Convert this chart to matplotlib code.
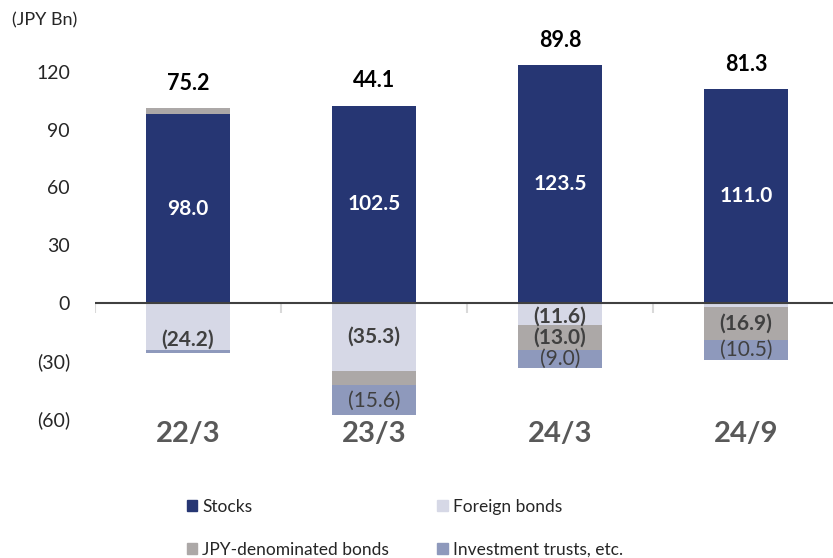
import matplotlib
matplotlib.use("Agg")
import matplotlib.pyplot as plt
from matplotlib.patches import Patch

plt.rcParams['font.family'] = ['Lato', 'DejaVu Sans']

# data (JPY Bn)
periods = ["22/3", "23/3", "24/3", "24/9"]
stocks = [98.0, 102.5, 123.5, 111.0]
foreign_bonds = [-24.2, -35.3, -11.6, -2.3]
jpy_bonds = [3.1, -7.5, -13.0, -16.9]
inv_trusts = [-1.7, -15.6, -9.0, -10.5]
totals = [75.2, 44.1, 89.8, 81.3]

series = [
    ("Stocks", stocks, "#263673"),
    ("Foreign bonds", foreign_bonds, "#d6d8e6"),
    ("JPY-denominated bonds", jpy_bonds, "#aca8a7"),
    ("Investment trusts, etc.", inv_trusts, "#8e99bc"),
]

fig = plt.figure(figsize=(8.33, 5.58), dpi=100)
ax = fig.add_axes([0.114, 0.25, 0.886, 0.69])

x = list(range(len(periods)))
w = 0.45
pos_bottom = [0.0] * len(x)
neg_bottom = [0.0] * len(x)

for name, vals, col in series:
    bottoms = []
    for i, v in enumerate(vals):
        if v >= 0:
            bottoms.append(pos_bottom[i])
            pos_bottom[i] += v
        else:
            bottoms.append(neg_bottom[i])
            neg_bottom[i] += v
    ax.bar(x, vals, w, bottom=bottoms, color=col, label=name, zorder=2)

    for i, v in enumerate(vals):
        mid = bottoms[i] + v / 2
        if name == "Stocks":
            ax.text(i, mid, f"{v:.1f}", ha="center", va="center", color="white",
                    fontsize=15, fontweight="bold", zorder=4)
        elif abs(v) >= 8:
            bold = name != "Investment trusts, etc."
            shift = -13 if (name == "Foreign bonds" and i == 0) else 0
            if name == "Foreign bonds" and i == 2:
                shift = -2
            ax.annotate(f"({abs(v):.1f})", (i, mid), xytext=(0, shift),
                        textcoords="offset pixels", ha="center", va="center",
                        color="#404040", fontsize=15,
                        fontweight="bold" if bold else "normal", zorder=4)

# totals above the positive stack
for i, t in enumerate(totals):
    ax.annotate(f"{t:.1f}", (i, pos_bottom[i]), xytext=(0, 25),
                textcoords="offset pixels", ha="center", va="center",
                fontsize=15.5, fontweight="bold", color="black",
                annotation_clip=False)

ax.axhline(0, color="#404040", lw=1.5, zorder=3)
ax.vlines([-0.5, 0.5, 1.5, 2.5], 0, -5.2, color="#d9d9d9", lw=1.5, zorder=1)

ax.set_xlim(-0.5, 3.468)
ax.set_ylim(-60, 140)
yt = [-60, -30, 0, 30, 60, 90, 120]
ax.set_yticks(yt)
ax.set_yticklabels([f"({-v})" if v < 0 else str(v) for v in yt],
                   fontsize=14, color="#262626")
ax.tick_params(axis="y", length=0, pad=18)
ax.set_xticks(x)
ax.set_xticklabels(periods, fontsize=21, fontweight="bold", color="#595959")
ax.tick_params(axis="x", length=0, pad=2)
for s in ax.spines.values():
    s.set_visible(False)

fig.text(0.015, 0.963, "(JPY Bn)", fontsize=13, color="#262626", va="center")

# legend filled row by row: Stocks, Foreign / JPY, Investment trusts
order = [0, 2, 1, 3]
handles = [Patch(color=series[k][2], label=series[k][0]) for k in order]
fig.legend(handles=handles, ncol=2, loc="center left",
           bbox_to_anchor=(0.216, 0.053), frameon=False, fontsize=12.5,
           handlelength=0.6, handleheight=0.6, handletextpad=0.3,
           columnspacing=2.75, labelspacing=1.55, borderaxespad=0,
           labelcolor="#262626")

fig.savefig("out.png", dpi=100)
